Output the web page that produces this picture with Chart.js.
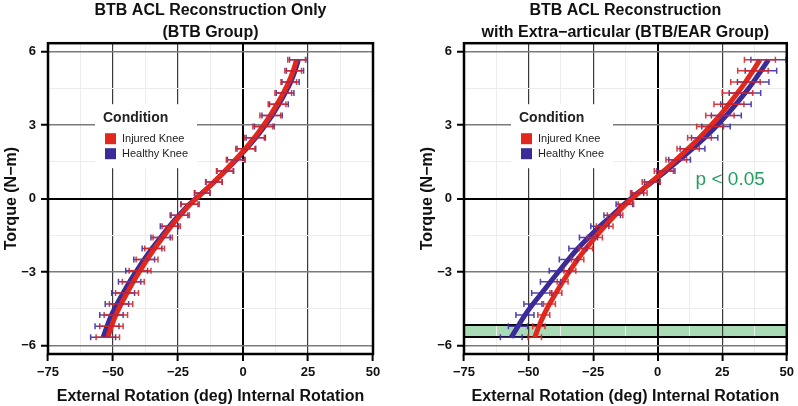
<!DOCTYPE html>
<html>
<head>
<meta charset="utf-8">
<script src="https://cdn.jsdelivr.net/npm/chart.js@4.4.1/dist/chart.umd.min.js"></script>
<style>
  html, body { margin: 0; padding: 0; background: #fff; }
  #wrap { position: relative; width: 798px; height: 406px; }
  canvas { position: absolute; top: 0; }
  #btbChart { left: 0; }
  #earChart { left: 416px; }
</style>
</head>
<body>
<div id="wrap">
  <canvas id="btbChart" width="400" height="406"></canvas>
  <canvas id="earChart" width="382" height="406"></canvas>
</div>
<script>
// Torque levels (N-m) at which rotation was measured, shared by both groups.
const torqueLevels = [-5.67, -5.22, -4.76, -4.31, -3.86, -3.40, -2.95, -2.49, -2.04, -1.59, -1.13, -0.68, -0.23,
                      0.23, 0.68, 1.13, 1.59, 2.04, 2.49, 2.95, 3.40, 3.86, 4.31, 4.76, 5.22, 5.67];

// BTB group: mean rotation (deg) and half-width of the error bars.
const btbInjured = [-52.0, -50.6, -48.9, -46.9, -44.6, -42.2, -39.6, -36.9, -34.0, -30.9, -27.6, -24.1, -20.3,
                    -15.6, -11.2, -7.0, -2.9, 0.9, 4.4, 7.6, 10.5, 13.1, 15.5, 17.6, 19.3, 20.6];
const btbHealthy = [-53.8, -52.3, -50.6, -48.5, -46.1, -43.6, -40.9, -38.0, -35.0, -31.7, -28.3, -24.6, -20.6,
                    -15.7, -11.1, -6.8, -2.6, 1.3, 4.9, 8.2, 11.2, 13.8, 16.2, 18.3, 20.0, 21.3];
const btbInjuredErr = [4.5, 4.5, 4.5, 4.5, 4.4, 4.2, 4.2, 4.2, 3.8, 3.7, 3.5, 3.5, 3.5,
                       2.9, 3.2, 3.2, 3.5, 3.7, 3.8, 3.8, 4.0, 3.4, 3.2, 3.0, 3.2, 3.4];
const btbHealthyErr = [4.8, 4.6, 4.5, 4.5, 4.4, 4.3, 4.2, 4.0, 3.8, 3.7, 3.5, 3.4, 3.3,
                       3.0, 3.1, 3.2, 3.4, 3.6, 3.7, 3.8, 3.9, 3.6, 3.4, 3.3, 3.3, 3.4];

// BTB/EAR group.
const earInjured = [-47.6, -46.0, -44.1, -41.9, -39.4, -36.8, -34.0, -31.0, -27.8, -24.3, -20.5, -16.5, -12.3,
                    -7.3, -2.5, 2.4, 7.2, 11.8, 16.2, 20.3, 24.1, 27.6, 30.9, 34.0, 36.9, 39.6];
const earHealthy = [-56.7, -54.1, -51.4, -48.3, -44.9, -41.5, -38.1, -34.6, -30.9, -26.8, -22.4, -17.6, -12.9,
                    -7.7, -2.2, 3.2, 8.5, 13.5, 18.2, 22.6, 26.6, 30.3, 33.8, 37.0, 40.0, 42.9];
const earInjuredErr = [2.6, 2.4, 2.3, 2.3, 2.3, 2.1, 2.3, 2.4, 2.6, 2.9, 3.2, 3.0, 3.0,
                       3.2, 3.5, 3.7, 4.0, 4.3, 4.6, 5.2, 5.5, 5.8, 5.9, 5.7, 5.9, 6.0];
const earHealthyErr = [4.2, 3.7, 3.5, 3.5, 3.9, 3.9, 3.9, 3.5, 3.5, 3.5, 3.5, 3.2, 3.2,
                       2.3, 2.9, 3.5, 4.2, 4.8, 5.1, 5.5, 5.8, 5.9, 6.1, 6.1, 6.1, 6.8];

// Torque range where the groups differ (p < 0.05).
const sigBand = [-5.66, -5.17];
const sigLabel = "p < 0.05";

const seriesLabels = ["Injured Knee", "Healthy Knee"];
const legendTitle = "Condition";
const xTickValues = [-75, -62.5, -50, -37.5, -25, -12.5, 0, 12.5, 25, 37.5, 50];
const yTickValues = [-6, -4.5, -3, -1.5, 0, 1.5, 3, 4.5, 6];

const FONT = "'Liberation Sans', Arial, Helvetica, sans-serif";
const RED = "#e2271d";
const BLUE = "#3a2b96";

Chart.defaults.font.family = FONT;
Chart.defaults.color = "#111";

const fmt = v => (v < 0 ? "\u2212" + Math.abs(v) : String(v));

function pointsOf(values) {
  return torqueLevels.map((t, i) => ({ x: values[i], y: t }));
}

// Extra drawing: significance band, legend box, error bars, frame, p-value note.
const panelExtras = {
  id: "panelExtras",
  beforeDraw(chart, args, opts) {
    if (!opts.band) return;
    const { ctx, chartArea: a, scales: { y } } = chart;
    const top = y.getPixelForValue(opts.band[1]);
    const bottom = y.getPixelForValue(opts.band[0]);
    ctx.save();
    ctx.fillStyle = "#a9dcb4";
    ctx.fillRect(a.left, top, a.right - a.left, bottom - top);
    ctx.restore();
  },
  beforeDatasetsDraw(chart, args, opts) {
    const { ctx, chartArea: a, scales: { y } } = chart;
    ctx.save();
    if (opts.band) {
      ctx.strokeStyle = "#000";
      ctx.lineWidth = 2;
      ctx.beginPath();
      opts.band.forEach(v => {
        const py = y.getPixelForValue(v);
        ctx.moveTo(a.left, py);
        ctx.lineTo(a.right, py);
      });
      ctx.stroke();
    }
    // legend
    ctx.fillStyle = "#fff";
    ctx.fillRect(a.left + 47, a.top + 61, 102, 64);
    ctx.textAlign = "left";
    ctx.textBaseline = "middle";
    ctx.fillStyle = "#222";
    ctx.font = "bold 14px " + FONT;
    ctx.fillText(legendTitle, a.left + 55, a.top + 75);
    chart.data.datasets.forEach((ds, i) => {
      const sy = a.top + 90 + i * 15;
      ctx.fillStyle = ds.borderColor;
      ctx.fillRect(a.left + 57, sy, 11, 11);
      ctx.fillStyle = "#222";
      ctx.font = "11px " + FONT;
      ctx.fillText(ds.label, a.left + 74, sy + 6);
    });
    ctx.restore();
  },
  afterDatasetsDraw(chart, args, opts) {
    const { ctx, chartArea: a, scales: { x, y } } = chart;
    ctx.save();
    // error bars, last dataset first so the injured knee sits on top
    const sets = chart.data.datasets;
    for (let k = sets.length - 1; k >= 0; k--) {
      const ds = sets[k];
      ctx.strokeStyle = ds.errorColor;
      ctx.lineWidth = 1.5;
      ctx.beginPath();
      ds.data.forEach((p, i) => {
        const e = ds.errors[i];
        const x0 = x.getPixelForValue(p.x - e);
        const x1 = x.getPixelForValue(p.x + e);
        const py = y.getPixelForValue(p.y);
        ctx.moveTo(x0, py); ctx.lineTo(x1, py);
        ctx.moveTo(x0, py - 3); ctx.lineTo(x0, py + 3);
        ctx.moveTo(x1, py - 3); ctx.lineTo(x1, py + 3);
      });
      ctx.stroke();
    }
    if (opts.note) {
      ctx.fillStyle = "#1f9e5c";
      ctx.font = "19px " + FONT;
      ctx.textAlign = "left";
      ctx.textBaseline = "middle";
      ctx.fillText(opts.note.text, x.getPixelForValue(opts.note.x), y.getPixelForValue(opts.note.y));
    }
    ctx.strokeStyle = "#000";
    ctx.lineWidth = 2.5;
    ctx.strokeRect(a.left, a.top, a.right - a.left, a.bottom - a.top);
    ctx.restore();
  }
};

function makePanel(canvasId, title, injured, healthy, injuredErr, healthyErr, extras, padRight) {
  const ctx = document.getElementById(canvasId).getContext("2d");
  return new Chart(ctx, {
    type: "scatter",
    data: {
      datasets: [
        {
          label: seriesLabels[0],
          data: pointsOf(injured),
          errors: injuredErr,
          borderColor: RED,
          backgroundColor: RED,
          errorColor: "rgba(214, 38, 38, 0.9)",
          borderWidth: 5,
          pointRadius: 0,
          showLine: true,
          tension: 0.35
        },
        {
          label: seriesLabels[1],
          data: pointsOf(healthy),
          errors: healthyErr,
          borderColor: BLUE,
          backgroundColor: BLUE,
          errorColor: "rgba(62, 46, 165, 0.9)",
          borderWidth: 5,
          pointRadius: 0,
          showLine: true,
          tension: 0.35
        }
      ]
    },
    options: {
      responsive: false,
      animation: false,
      layout: { padding: { left: 0, right: padRight, top: 0, bottom: 0 } },
      plugins: {
        legend: { display: false },
        tooltip: { enabled: false },
        title: {
          display: true,
          text: title,
          fullSize: false,
          color: "#111",
          font: { size: 16, weight: "bold", lineHeight: 1.35 },
          padding: { top: 0, bottom: 0 }
        },
        panelExtras: extras
      },
      scales: {
        x: {
          type: "linear",
          min: -75,
          max: 50,
          afterBuildTicks: s => { s.ticks = xTickValues.map(v => ({ value: v })); },
          afterFit: s => { s.height = 52; },
          ticks: {
            autoSkip: false,
            maxRotation: 0,
            padding: 4,
            font: { size: 13, weight: "bold" },
            color: "#111",
            callback: v => (v % 25 === 0 ? fmt(v) : "")
          },
          grid: {
            color: c => (c.tick.value === 0 ? "#000" : c.tick.value % 25 === 0 ? "#3a3a3a" : "#ececec"),
            lineWidth: c => (c.tick.value === 0 ? 2 : c.tick.value % 25 === 0 ? 1.2 : 1),
            tickLength: 7,
            tickWidth: 2,
            tickColor: c => (c.tick.value % 25 === 0 ? "#000" : "rgba(0,0,0,0)")
          },
          border: { display: false },
          title: {
            display: true,
            text: "External Rotation (deg) Internal Rotation",
            color: "#111",
            font: { size: 16, weight: "bold" },
            padding: { top: 0, bottom: 0 }
          }
        },
        y: {
          type: "linear",
          min: -6.35,
          max: 6.35,
          afterBuildTicks: s => { s.ticks = yTickValues.map(v => ({ value: v })); },
          afterFit: s => { s.width = 48; },
          ticks: {
            autoSkip: false,
            padding: 5,
            font: { size: 13, weight: "bold" },
            color: "#111",
            callback: v => (v % 3 === 0 ? fmt(v) : "")
          },
          grid: {
            color: c => (c.tick.value === 0 ? "#000" : c.tick.value % 3 === 0 ? "#7a7a7a" : "#ececec"),
            lineWidth: c => (c.tick.value === 0 ? 2 : c.tick.value % 3 === 0 ? 1.5 : 1),
            tickLength: 7,
            tickWidth: 2,
            tickColor: c => (c.tick.value % 3 === 0 ? "#000" : "rgba(0,0,0,0)")
          },
          border: { display: false },
          title: {
            display: true,
            text: "Torque (N\u2212m)",
            color: "#111",
            font: { size: 16, weight: "bold" },
            padding: { top: 2, bottom: 0 }
          }
        }
      }
    },
    plugins: [panelExtras]
  });
}

makePanel("btbChart", ["BTB ACL Reconstruction Only", "(BTB Group)"],
  btbInjured, btbHealthy, btbInjuredErr, btbHealthyErr, {}, 27);

makePanel("earChart", ["BTB ACL Reconstruction", "with Extra\u2212articular (BTB/EAR Group)"],
  earInjured, earHealthy, earInjuredErr, earHealthyErr,
  { band: sigBand, note: { text: sigLabel, x: 14.7, y: 0.78 } }, 10);
</script>
</body>
</html>
